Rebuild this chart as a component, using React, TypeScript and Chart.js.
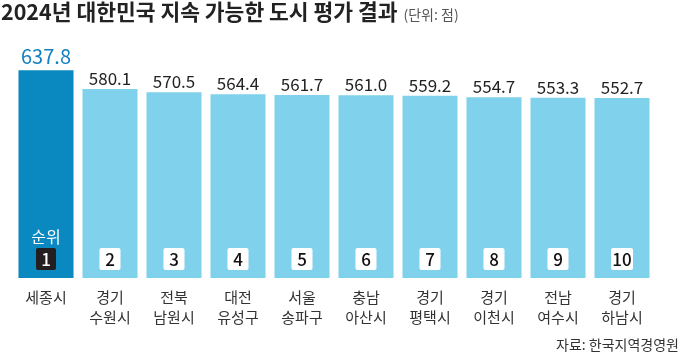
import React, { useEffect, useRef } from "react";
import { Chart, registerables } from "chart.js";

Chart.register(...registerables);

const regions = ["세종시", "경기 수원시", "전북 남원시", "대전 유성구", "서울 송파구", "충남 아산시", "경기 평택시", "경기 이천시", "전남 여수시", "경기 하남시"];
const labelLines = [["세종시"], ["경기", "수원시"], ["전북", "남원시"], ["대전", "유성구"], ["서울", "송파구"], ["충남", "아산시"], ["경기", "평택시"], ["경기", "이천시"], ["전남", "여수시"], ["경기", "하남시"]];
const scores = [637.8, 580.1, 570.5, 564.4, 561.7, 561.0, 559.2, 554.7, 553.3, 552.7];
const ranks = ["1", "2", "3", "4", "5", "6", "7", "8", "9", "10"];
const titleText = "2024년 대한민국 지속 가능한 도시 평가 결과";
const unitText = "(단위: 점)";
const sourceText = "자료: 한국지역경영원";
const rankTitle = "순위";

const FONT = '"Noto Sans CJK KR", "Noto Sans", sans-serif';
const HI = "#0a88c0";
const LO = "#80d1eb";

function roundRect(ctx: CanvasRenderingContext2D, x: number, y: number, w: number, h: number, r: number) {
  ctx.beginPath();
  ctx.moveTo(x + r, y);
  ctx.lineTo(x + w - r, y);
  ctx.quadraticCurveTo(x + w, y, x + w, y + r);
  ctx.lineTo(x + w, y + h - r);
  ctx.quadraticCurveTo(x + w, y + h, x + w - r, y + h);
  ctx.lineTo(x + r, y + h);
  ctx.quadraticCurveTo(x, y + h, x, y + h - r);
  ctx.lineTo(x, y + r);
  ctx.quadraticCurveTo(x, y, x + r, y);
  ctx.closePath();
}

const decor = {
  id: "decor",
  afterDatasetsDraw(chart: any) {
    const ctx: CanvasRenderingContext2D = chart.ctx;
    const meta = chart.getDatasetMeta(0);
    const bottom = chart.chartArea.bottom;
    ctx.save();
    // title
    ctx.textBaseline = "alphabetic";
    ctx.textAlign = "left";
    ctx.fillStyle = "#222";
    ctx.font = `600 21.5px ${FONT}`;
    ctx.fillText(titleText, 1, 20);
    const tw = ctx.measureText(titleText).width;
    ctx.fillStyle = "#555";
    ctx.font = `400 14px ${FONT}`;
    ctx.fillText(unitText, 1 + tw + 6, 20);
    // source
    ctx.textAlign = "right";
    ctx.fillStyle = "#333";
    ctx.font = `400 14px ${FONT}`;
    ctx.fillText(sourceText, 679, 350);

    meta.data.forEach((bar: any, i: number) => {
      const x = bar.x;
      // value label
      ctx.textAlign = "center";
      ctx.textBaseline = "alphabetic";
      ctx.fillStyle = i === 0 ? "#1480c2" : "#222";
      ctx.font = i === 0 ? `400 20px ${FONT}` : `400 17px ${FONT}`;
      ctx.fillText(scores[i].toFixed(1), x, bar.y - (i === 0 ? 6 : 4));
      // rank box
      const bw = i === 0 ? 20 : ranks[i].length > 1 ? 22 : 21;
      const bh = 22;
      const by = bottom - 30;
      ctx.fillStyle = i === 0 ? "#231f20" : "#ffffff";
      roundRect(ctx, x - bw / 2, by, bw, bh, 2);
      ctx.fill();
      ctx.fillStyle = i === 0 ? "#ffffff" : "#111";
      ctx.font = `500 17px ${FONT}`;
      ctx.textBaseline = "middle";
      ctx.fillText(ranks[i], x, by + bh / 2 + 1);
      if (i === 0) {
        ctx.font = `400 16px ${FONT}`;
        ctx.fillStyle = "#ffffff";
        ctx.fillText(rankTitle, x, bottom - 41);
      }
      // category label
      ctx.fillStyle = "#333";
      ctx.font = `400 15px ${FONT}`;
      labelLines[i].forEach((ln, j) => {
        ctx.fillText(ln, x, bottom + 19 + j * 20);
      });
    });
    ctx.restore();
  },
};

export default function App() {
  const ref = useRef<HTMLCanvasElement>(null);
  useEffect(() => {
    document.body.style.margin = "0";
    const chart = new Chart(ref.current!, {
      type: "bar",
      data: {
        labels: regions,
        datasets: [
          {
            data: scores,
            backgroundColor: scores.map((_, i) => (i === 0 ? HI : LO)),
            borderWidth: 0,
            barPercentage: 0.86,
            categoryPercentage: 1,
          },
        ],
      },
      options: {
        animation: false,
        responsive: false,
        events: [],
        layout: { padding: { left: 14, right: 26, top: 50, bottom: 78 } },
        plugins: { legend: { display: false }, tooltip: { enabled: false } },
        scales: {
          x: { display: false },
          y: { display: false, min: 0, max: 700 },
        },
      },
      plugins: [decor],
    });
    return () => chart.destroy();
  }, []);
  return (
    <div style={{ width: 680, height: 356, background: "#fff" }}>
      <canvas ref={ref} width={680} height={356} style={{ display: "block" }} />
    </div>
  );
}
